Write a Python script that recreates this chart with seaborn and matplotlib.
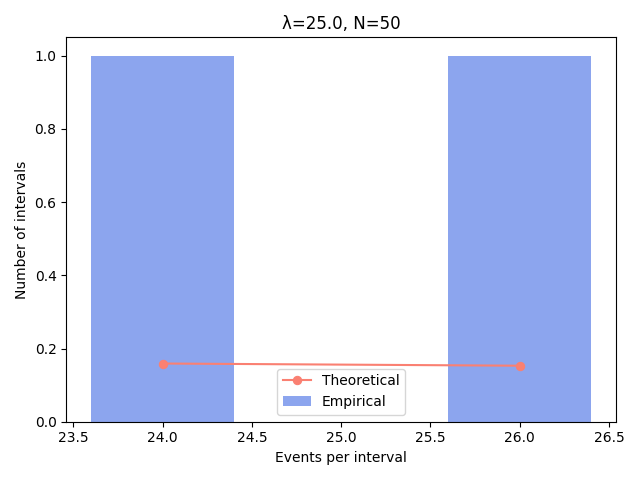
import numpy as np
import matplotlib
matplotlib.use("Agg")
import matplotlib.pyplot as plt
import seaborn as sns

counts = [24, 26]
empirical = [1.0, 1.0]
theoretical = [0.159, 0.153]

fig, ax = plt.subplots(figsize=(6.4, 4.8), dpi=100)
ax.bar(counts, empirical, width=0.8, color="#8ca5ee", label="Empirical")
sns.lineplot(x=counts, y=theoretical, marker="o", color="#fa8072",
             markeredgecolor="#fa8072", label="Theoretical", ax=ax)
ax.set_title("λ=25.0, N=50")
ax.set_xlabel("Events per interval")
ax.set_ylabel("Number of intervals")
ax.legend(loc="lower center")
fig.tight_layout()
fig.savefig("out.png")
